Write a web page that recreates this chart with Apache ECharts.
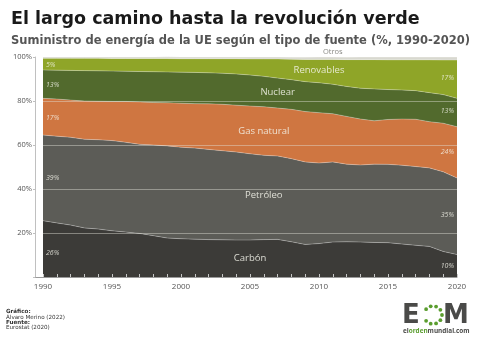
<!DOCTYPE html>
<html>
<head>
<meta charset="utf-8">
<script src="https://cdn.jsdelivr.net/npm/echarts@6/dist/echarts.min.js"></script>
<style>
  html, body { margin: 0; padding: 0; background: #fff; }
  #chart { width: 480px; height: 339px; }
</style>
</head>
<body>
<div id="chart"></div>
<script>
const years = ['1990', '1991', '1992', '1993', '1994', '1995', '1996', '1997', '1998', '1999',
  '2000', '2001', '2002', '2003', '2004', '2005', '2006', '2007', '2008', '2009',
  '2010', '2011', '2012', '2013', '2014', '2015', '2016', '2017', '2018', '2019', '2020'];

// shares in %, stacked bottom to top
const carbon = [25.6, 24.6, 23.6, 22.3, 21.8, 21.0, 20.4, 19.8, 18.8, 17.7,
  17.4, 17.2, 17.0, 16.9, 16.8, 16.8, 17.0, 17.1, 16.0, 14.8,
  15.2, 15.9, 16.0, 15.9, 15.7, 15.6, 15.0, 14.4, 13.9, 11.6, 10.2];
const petroleo = [38.9, 39.4, 39.9, 40.3, 40.6, 41.0, 40.8, 40.5, 41.2, 41.9,
  41.6, 41.4, 41.0, 40.5, 40.0, 39.2, 38.3, 37.9, 37.8, 37.5,
  36.6, 36.4, 35.3, 35.0, 35.6, 35.6, 35.8, 35.8, 35.7, 36.2, 34.8];
const gas = [16.7, 16.9, 16.9, 17.4, 17.5, 17.8, 18.6, 19.3, 19.3, 19.6,
  20.0, 20.2, 20.7, 21.1, 21.3, 21.7, 22.1, 21.8, 22.4, 22.9,
  22.9, 21.9, 21.7, 20.9, 19.7, 20.4, 21.0, 21.5, 21.0, 22.1, 23.3];
const nuclear = [12.9, 13.1, 13.5, 13.8, 13.8, 13.8, 13.7, 13.8, 14.0, 14.0,
  14.1, 14.2, 14.1, 14.1, 14.2, 14.1, 13.8, 13.6, 13.5, 13.6,
  13.6, 13.4, 13.6, 14.0, 14.5, 13.6, 13.2, 13.0, 13.2, 13.0, 12.9];
const renovables = [5.3, 5.4, 5.5, 5.6, 5.7, 5.7, 5.8, 5.9, 6.0, 6.1,
  6.1, 6.2, 6.4, 6.6, 6.9, 7.3, 7.9, 8.7, 9.3, 10.1,
  10.6, 11.3, 12.2, 13.0, 13.3, 13.5, 13.7, 14.0, 14.9, 15.7, 17.4];
const otros = [0.6, 0.6, 0.6, 0.6, 0.6, 0.7, 0.7, 0.7, 0.7, 0.8,
  0.8, 0.8, 0.8, 0.8, 0.8, 0.9, 0.9, 0.9, 0.9, 1.0,
  1.1, 1.1, 1.1, 1.2, 1.2, 1.3, 1.3, 1.3, 1.3, 1.4, 1.4];

const yTickLabels = ['', '20%', '40%', '60%', '80%', '100%'];

// name labels inside the areas: [year, value]
const sourceLabels = [
  { series: 'Carbón', text: 'Carbón', at: ['2005', 8.6] },
  { series: 'Petróleo', text: 'Petróleo', at: ['2006', 37] },
  { series: 'Gas natural', text: 'Gas natural', at: ['2006', 66.4] },
  { series: 'Nuclear', text: 'Nuclear', at: ['2007', 83.8] },
  { series: 'Renovables', text: 'Renovables', at: ['2010', 93.8] }
];
// "Otros" sits just above the top of the plot
const otrosLabel = { text: 'Otros', at: ['2011', 100] };
const startLabels = [
  { series: 'Carbón', text: '26%', at: ['1990', 10.9] },
  { series: 'Petróleo', text: '39%', at: ['1990', 45] },
  { series: 'Gas natural', text: '17%', at: ['1990', 72.3] },
  { series: 'Nuclear', text: '13%', at: ['1990', 87.3] },
  { series: 'Renovables', text: '5%', at: ['1990', 96.4] }
];
const endLabels = [
  { series: 'Carbón', text: '10%', at: ['2020', 5] },
  { series: 'Petróleo', text: '35%', at: ['2020', 28.2] },
  { series: 'Gas natural', text: '24%', at: ['2020', 56.8] },
  { series: 'Nuclear', text: '13%', at: ['2020', 75.5] },
  { series: 'Renovables', text: '17%', at: ['2020', 90.5] }
];

const sources = [
  { name: 'Carbón', values: carbon, color: '#3c3b38' },
  { name: 'Petróleo', values: petroleo, color: '#5c5c57' },
  { name: 'Gas natural', values: gas, color: '#cf7641' },
  { name: 'Nuclear', values: nuclear, color: '#526a2d' },
  { name: 'Renovables', values: renovables, color: '#8fa528' },
  { name: 'Otros', values: otros, color: '#d8d8d0' }
];

const font = '"Open Sans", "DejaVu Sans", sans-serif';
const wide = '"DejaVu Sans", sans-serif';

function markers(name) {
  const items = [];
  sourceLabels.filter(l => l.series === name).forEach(l => items.push({
    coord: l.at, value: l.text,
    label: {
      show: true, formatter: l.text, position: 'inside', fontFamily: font, fontSize: 9.5,
      color: 'rgba(245,245,235,0.85)'
    }
  }));
  if (name === 'Otros') {
    items.push({
      coord: otrosLabel.at, value: otrosLabel.text,
      label: {
        show: true, formatter: otrosLabel.text, position: 'top', distance: 1,
        fontFamily: font, fontSize: 7.5, color: '#8a8a85'
      }
    });
  }
  startLabels.filter(l => l.series === name).forEach(l => items.push({
    coord: l.at, value: l.text,
    label: {
      show: true, formatter: l.text, position: 'right', distance: 3, fontFamily: font,
      fontSize: 7, fontStyle: 'italic', color: 'rgba(245,245,235,0.8)'
    }
  }));
  endLabels.filter(l => l.series === name).forEach(l => items.push({
    coord: l.at, value: l.text,
    label: {
      show: true, formatter: l.text, position: 'left', distance: 3, fontFamily: font,
      fontSize: 7, fontStyle: 'italic', color: 'rgba(245,245,235,0.8)'
    }
  }));
  return items;
}

const chart = echarts.init(document.getElementById('chart'), null, { renderer: 'canvas' });

// logo: ring of dots forming the "O"
const dots = [];
for (let a = -140; a <= 140; a += 35) {
  const r = a * Math.PI / 180;
  dots.push({
    type: 'circle',
    shape: { cx: 433 + 9 * Math.cos(r), cy: 315 + 9 * Math.sin(r), r: 1.9 },
    style: { fill: '#5a9d2e' }
  });
}

chart.setOption({
  animation: false,
  backgroundColor: '#fff',
  title: [
    {
      text: 'El largo camino hasta la revolución verde',
      left: 6, top: 5,
      textStyle: { fontFamily: wide, fontSize: 17.5, fontWeight: 'bold', color: '#1a1a1a' }
    },
    {
      text: 'Suministro de energía de la UE según el tipo de fuente (%, 1990-2020)',
      left: 6, top: 30,
      textStyle: { fontFamily: wide, fontSize: 11.5, fontWeight: 'bold', color: '#555' }
    }
  ],
  grid: { left: 43, right: 23, top: 57, bottom: 62, containLabel: false },
  xAxis: {
    type: 'category',
    data: years,
    boundaryGap: false,
    z: 5,
    axisLine: { show: true, lineStyle: { color: '#9a9a9a', width: 1 } },
    axisTick: { show: true, inside: true, length: 3, interval: 0, lineStyle: { color: '#c8c8c8' } },
    axisLabel: { interval: 4, color: '#555', fontFamily: font, fontSize: 8, margin: 6 },
    splitLine: { show: false }
  },
  yAxis: {
    type: 'value',
    min: 0, max: 100, interval: 20,
    offset: 8,
    z: 5,
    axisLine: { show: true, lineStyle: { color: '#c0c0c0' } },
    axisTick: { show: true, length: 2, lineStyle: { color: '#c0c0c0' } },
    axisLabel: {
      formatter: (v, i) => yTickLabels[i],
      color: '#555', fontFamily: font, fontSize: 7.5, margin: 3
    },
    splitLine: { show: true, lineStyle: { color: 'rgba(225,225,215,0.45)', width: 1 } }
  },
  series: sources.map(s => ({
    name: s.name,
    type: 'line',
    stack: 'total',
    symbol: 'none',
    clip: false,
    lineStyle: { width: 0.8, color: 'rgba(255,255,255,0.35)' },
    areaStyle: { color: s.color, opacity: 1 },
    data: s.values,
    markPoint: {
      symbol: 'circle', symbolSize: 0, silent: true,
      data: markers(s.name)
    }
  })),
  graphic: [
    {
      type: 'line', silent: true,
      shape: { x1: 35, y1: 277.5, x2: 43, y2: 277.5 },
      style: { stroke: '#9a9a9a', lineWidth: 1 }
    },
    {
      type: 'text', left: 6, top: 309,
      style: {
        text: '{b|Gráfico:}\nÁlvaro Merino (2022)\n{b|Fuente:}\nEurostat (2020)',
        fontFamily: wide, fontSize: 5.6, lineHeight: 5.2, fill: '#333',
        rich: { b: { fontWeight: 'bold', fontSize: 5.6, fontFamily: wide } }
      }
    },
    {
      type: 'text', left: 402, top: 303,
      style: { text: 'E', fontFamily: wide, fontWeight: 'bold', fontSize: 26, fill: '#4a4a48' }
    },
    {
      type: 'text', left: 443, top: 303,
      style: { text: 'M', fontFamily: wide, fontWeight: 'bold', fontSize: 26, fill: '#4a4a48' }
    },
    ...dots,
    {
      type: 'text', left: 403, top: 328,
      style: {
        text: '{d|el}{g|orden}{d|mundial.com}',
        fontFamily: font, fontSize: 6.4, fontWeight: 'bold',
        rich: {
          d: { fill: '#4a4a48', fontWeight: 'bold', fontSize: 6.4, fontFamily: font },
          g: { fill: '#5a9d2e', fontWeight: 'bold', fontSize: 6.4, fontFamily: font }
        }
      }
    }
  ]
});
</script>
</body>
</html>
